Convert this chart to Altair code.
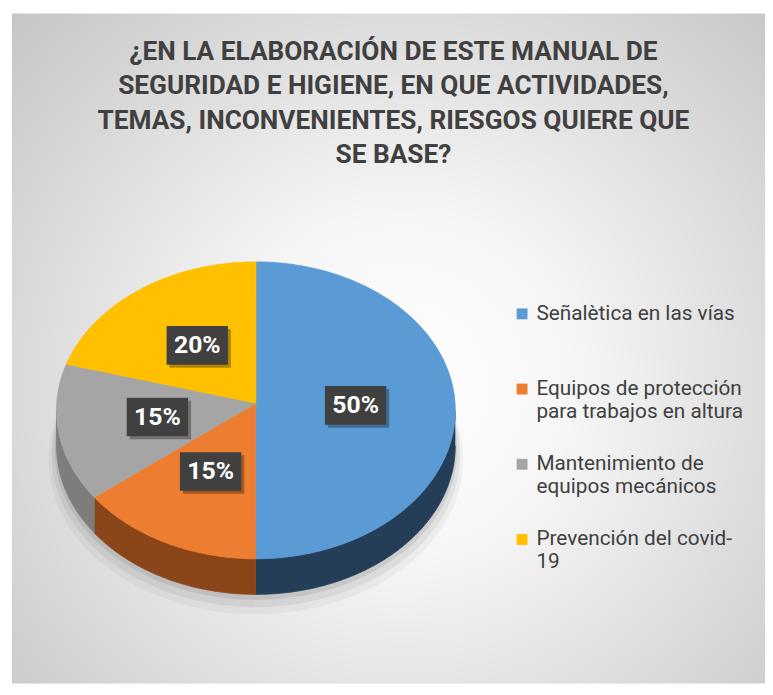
import altair as alt
import pandas as pd

# ---- data ----
categories = [
    "Señalètica en las vías",
    "Equipos de protección para trabajos en altura",
    "Mantenimiento de equipos mecánicos",
    "Prevención del covid-19",
]
legend_labels = [
    "Señalètica en las vías\n ",
    "Equipos de protección\npara trabajos en altura",
    "Mantenimiento de\nequipos mecánicos",
    "Prevención del covid-\n19",
]
values = [50, 15, 15, 20]
top_colors = ["#5b9bd5", "#ed7d31", "#a5a5a5", "#ffc000"]
side_colors = ["#243e58", "#8a4518", "#7d7d7d", "#bf9000"]
title_lines = [
    "¿EN LA ELABORACIÓN DE ESTE MANUAL DE",
    "SEGURIDAD E HIGIENE, EN QUE ACTIVIDADES,",
    "TEMAS, INCONVENIENTES, RIESGOS QUIERE QUE",
    "SE BASE?",
]

# ---- layout (pixels of the plot area) ----
W, H = 761, 677
CX, CY, APY = 246.5, 401, 394
RX, RY, D = 201.5, 150, 36
N = 90

df = pd.DataFrame({
    "cat": categories,
    "label": legend_labels,
    "value": values,
    "order": list(range(len(values))),
})

xs = alt.X("px:Q", scale=alt.Scale(domain=[0, W], nice=False, zero=False), axis=None)
ys = alt.Y("py:Q", scale=alt.Scale(domain=[0, H], nice=False, zero=False, reverse=True), axis=None)

base = (
    alt.Chart(df)
    .transform_joinaggregate(total="sum(value)")
    .transform_window(cum="sum(value)", sort=[alt.SortField("order")], frame=[None, 0])
    .transform_calculate(
        a1="datum.cum / datum.total * 2 * PI",
        a0="(datum.cum - datum.value) / datum.total * 2 * PI",
    )
)


def slice_poly(cx, cy, apy, rx, ry):
    return (
        base.transform_calculate(idx=f"sequence(0, {N + 2})")
        .transform_flatten(["idx"])
        .transform_calculate(t=f"datum.a0 + (datum.a1 - datum.a0) * min(datum.idx, {N}) / {N}")
        .transform_calculate(
            px=f"datum.idx > {N} ? {cx} : {cx} + {rx} * sin(datum.t)",
            py=f"datum.idx > {N} ? {apy} : {cy} - {ry} * cos(datum.t)",
        )
    )


bg = (
    alt.Chart(pd.DataFrame({"k": [0]}))
    .mark_rect(
        fill={
            "gradient": "radial",
            "x1": 0.52, "y1": 0.55, "r1": 0,
            "x2": 0.52, "y2": 0.55, "r2": 0.75,
            "stops": [
                {"offset": 0, "color": "#ffffff"},
                {"offset": 0.3, "color": "#f6f6f6"},
                {"offset": 1, "color": "#c2c2c2"},
            ],
        },
        strokeWidth=0,
    )
    .encode(x=alt.value(0), x2=alt.value(W), y=alt.value(0), y2=alt.value(H))
)

shadows = []
for sc, off, op in [(1.04, 14, 0.04), (1.025, 9, 0.06), (1.01, 4, 0.08)]:
    shadows.append(
        slice_poly(CX, CY + D + off, CY + D + off, RX * sc, RY * sc)
        .mark_line(filled=True, color="#000000", opacity=op, strokeWidth=0)
        .encode(x=xs, y=ys, order="idx:Q", detail="cat:N")
    )

side = (
    base.transform_calculate(s0="max(datum.a0, PI / 2)", s1="min(datum.a1, 3 * PI / 2)")
    .transform_filter("datum.s1 > datum.s0")
    .transform_calculate(idx=f"sequence(0, {2 * N + 2})")
    .transform_flatten(["idx"])
    .transform_calculate(
        t=f"datum.idx <= {N} ? datum.s0 + (datum.s1 - datum.s0) * datum.idx / {N} : "
          f"datum.s1 - (datum.s1 - datum.s0) * (datum.idx - {N + 1}) / {N}"
    )
    .transform_calculate(
        px=f"{CX} + {RX} * sin(datum.t)",
        py=f"{CY} - {RY} * cos(datum.t) + (datum.idx > {N} ? {D} : 0)",
    )
    .mark_line(filled=True, strokeWidth=0.8, opacity=1)
    .encode(
        x=xs, y=ys, order="idx:Q",
        color=alt.Color("label:N", scale=alt.Scale(domain=legend_labels, range=side_colors), legend=None),
        stroke=alt.Stroke("label:N", scale=alt.Scale(domain=legend_labels, range=side_colors), legend=None),
    )
)

top = (
    slice_poly(CX, CY, APY, RX, RY)
    .mark_line(filled=True, strokeWidth=0.8, opacity=1)
    .encode(
        x=xs, y=ys, order="idx:Q",
        color=alt.Color(
            "label:N",
            scale=alt.Scale(domain=legend_labels, range=top_colors),
            legend=alt.Legend(
                title=None, orient="none", legendX=505, legendY=293,
                symbolType="square", symbolSize=121, symbolStrokeWidth=0,
                symbolOpacity=1,
                labelFont="Roboto", labelFontSize=21, labelColor="#404040",
                labelExpr="split(datum.label, '\\n')", labelLimit=320,
                labelOffset=4, rowPadding=31, padding=0,
            ),
        ),
        stroke=alt.Stroke("label:N", scale=alt.Scale(domain=legend_labels, range=top_colors), legend=None),
    )
)

BOX = "M-1,-0.63H1V0.63H-1Z"
lbl = (
    base.transform_calculate(mid="(datum.a0 + datum.a1) / 2", pct="datum.value / datum.total")
    .transform_calculate(
        px=f"{CX} + 0.5 * {RX} * sin(datum.mid)",
        py=f"{CY - 5} - 0.5 * {RY} * cos(datum.mid)",
    )
)
box_shadow = lbl.mark_point(shape=BOX, size=3844, filled=True, color="#000000",
                            opacity=0.3, strokeWidth=0, xOffset=3, yOffset=3).encode(x=xs, y=ys)
box = lbl.mark_point(shape=BOX, size=3844, filled=True, color="#404040",
                     opacity=1, strokeWidth=0).encode(x=xs, y=ys)
txt = lbl.mark_text(font="Roboto", fontWeight="bold", fontSize=25, color="#ffffff").encode(
    x=xs, y=ys, text=alt.Text("pct:Q", format=".0%")
)

chart = (
    alt.layer(bg, *shadows, side, top, box_shadow, box, txt)
    .resolve_scale(color="independent", stroke="independent")
    .properties(
        width=W, height=H,
        padding={"left": 4, "top": 2, "right": 0, "bottom": 0},
        autosize=alt.AutoSizeParams(type="none"),
        title=alt.TitleParams(
            text=title_lines, font="Roboto", fontSize=26.5, fontWeight="bold",
            color="#404040", lineHeight=35, anchor="middle", baseline="top",
            offset=-157, dx=5,
        ),
    )
    .configure_view(strokeWidth=0)
)

chart.save("out.html", embed_options={"renderer": "svg", "actions": False})
